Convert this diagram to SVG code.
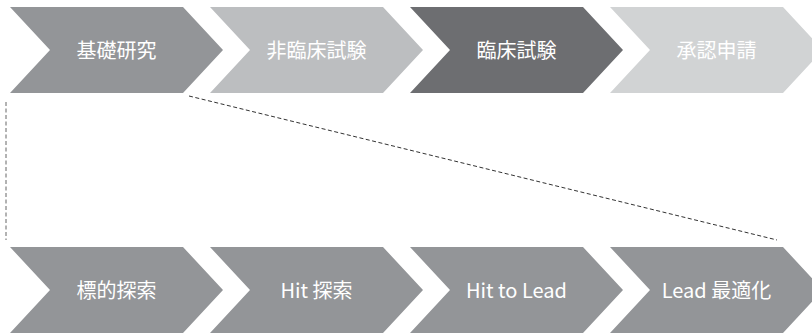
<svg xmlns="http://www.w3.org/2000/svg" width="812" height="334" viewBox="0 0 812 334">
  <style>
    .lbl { font-family: "Noto Sans CJK JP", "Noto Sans", sans-serif; font-size: 20px; fill: #ffffff; text-anchor: middle; }
    .c1 { fill: #939598; }
    .c2 { fill: #bcbec0; }
    .c3 { fill: #6d6e71; }
    .c4 { fill: #d1d3d4; }
    .dash { fill: none; stroke: #333333; stroke-width: 1; stroke-dasharray: 4 2.5; }
    .vdash { fill: none; stroke: #666666; stroke-width: 1; stroke-dasharray: 4 2.5; }
  </style>
  <defs>
    <polygon id="chev" points="0,0 173,0 213,43 173,86 0,86 40,43"/>
  </defs>

  <g id="kiso">
    <use href="#chev" x="10" y="7" class="c1"/>
    <text class="lbl" x="116.5" y="57.5">基礎研究</text>
  </g>
  <g id="hirinsho">
    <use href="#chev" x="210" y="7" class="c2"/>
    <text class="lbl" x="316.5" y="57.5">非臨床試験</text>
  </g>
  <g id="rinsho">
    <use href="#chev" x="410" y="7" class="c3"/>
    <text class="lbl" x="516.5" y="57.5">臨床試験</text>
  </g>
  <g id="shonin">
    <use href="#chev" x="610" y="7" class="c4"/>
    <text class="lbl" x="716.5" y="57.5">承認申請</text>
  </g>

  <g id="hyoteki">
    <use href="#chev" x="10" y="247" class="c1"/>
    <text class="lbl" x="116.5" y="297.5">標的探索</text>
  </g>
  <g id="hit">
    <use href="#chev" x="210" y="247" class="c1"/>
    <text class="lbl" x="316.5" y="297.5">Hit 探索</text>
  </g>
  <g id="hit2lead">
    <use href="#chev" x="410" y="247" class="c1"/>
    <text class="lbl" x="516.5" y="297.5">Hit to Lead</text>
  </g>
  <g id="leadopt">
    <use href="#chev" x="610" y="247" class="c1"/>
    <text class="lbl" x="716.5" y="297.5">Lead 最適化</text>
  </g>

  <g id="connectors">
    <line class="dash" x1="189" y1="96" x2="777" y2="240"/>
    <line class="vdash" x1="6" y1="102" x2="6" y2="240"/>
  </g>
</svg>
